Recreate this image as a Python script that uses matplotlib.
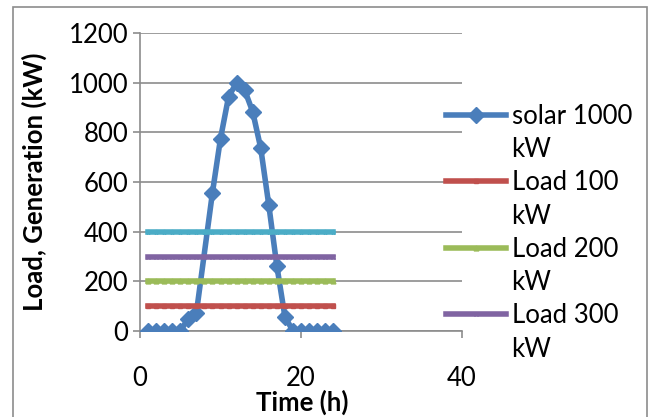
import matplotlib
matplotlib.use("Agg")
import matplotlib.pyplot as plt
from matplotlib.lines import Line2D

plt.rcParams['font.family'] = ['Lato', 'DejaVu Sans']

# Data
solar_hours = [1, 2, 3, 4, 5, 6, 7, 9, 10, 11, 12, 13, 14, 15, 16, 17, 18, 19, 20, 21, 22, 23, 24]
solar_kw = [0, 0, 0, 0, 0, 50, 72, 557, 775, 943, 1000, 970, 883, 736, 507, 262, 58, 0, 0, 0, 0, 0, 0]
load_hours = list(range(1, 25))
load_levels = [100, 200, 300, 400]
load_names = ["Load 100\nkW", "Load 200\nkW", "Load 300\nkW", "Load 400\nkW"]
load_colors = ["#C0504D", "#9BBB59", "#8064A2", "#4BACC6"]
load_markers = ["s", "^", "x", "*"]
x_ticks = [0, 20, 40]
y_ticks = [0, 200, 400, 600, 800, 1000, 1200]

FS = 18.5
W, H = 653, 417
fig = plt.figure(figsize=(W / 100, H / 100), dpi=100)
ax = fig.add_axes([140 / W, (H - 331) / H, (462 - 140) / W, (331 - 33) / H])

grid_c = "#8C8C8C"
for y in y_ticks:
    ax.axhline(y, color=grid_c, lw=1.2, zorder=0)

solar_color = "#4A7EBB"
ax.plot(solar_hours, solar_kw, color=solar_color, lw=4, marker="D", ms=8.5,
        mec=solar_color, mfc=solar_color, zorder=3, solid_joinstyle="round")

for lvl, c, m in zip(load_levels, load_colors, load_markers):
    ax.plot(load_hours, [lvl] * len(load_hours), color=c, lw=4, marker=m,
            ms=3.5, mec=c, mfc=c, zorder=4)

ax.set_xlim(0, 40)
ax.set_ylim(0, 1200)
ax.set_xticks(x_ticks)
ax.set_yticks(y_ticks)
for s in ["top", "right"]:
    ax.spines[s].set_visible(False)
ax.spines["left"].set_color(grid_c)
ax.spines["bottom"].set_color(grid_c)
ax.spines["left"].set_linewidth(1.2)
ax.spines["bottom"].set_linewidth(1.2)
ax.tick_params(axis="both", colors=grid_c, length=5, width=1.2, labelsize=FS,
               labelcolor="black")
ax.tick_params(axis="y", pad=3.5)
ax.tick_params(axis="x", pad=20)
ax.set_ylabel("Load, Generation (kW)", fontsize=FS, fontweight="bold")
ax.yaxis.set_label_coords(-(140 - 34) / 322, 0.5)
ax.yaxis.label.set_va("center")
ax.set_xlabel("Time (h)", fontsize=FS, fontweight="bold")
ax.xaxis.set_label_coords((302 - 140) / 322, -(402 - 331) / 298)
ax.xaxis.label.set_va("center")

# Legend (Excel-like wrapped labels)
blank = Line2D([], [], color="none")
handles = [Line2D([], [], color=solar_color, lw=4, marker="D", ms=8.5), blank]
labels = ["solar 1000", "kW"]
for name, c, m in zip(load_names[:3], load_colors[:3], load_markers[:3]):
    first, second = name.split("\n")
    handles += [Line2D([], [], color=c, lw=4, marker=m, ms=3.5), blank]
    labels += [first, second]
leg = fig.legend(handles, labels, loc="upper left", bbox_to_anchor=(446 / W, 1 - 104 / H),
                 frameon=False, fontsize=FS, handlelength=2.35, handletextpad=0.2,
                 labelspacing=0.32, borderpad=0, borderaxespad=0)

# figure border
fig.patches.append(plt.Rectangle((13 / W, -0.01), (647 - 13) / W, 1 - 7 / H + 0.01,
                                 transform=fig.transFigure, fill=False,
                                 edgecolor="#8C8C8C", lw=1.2))

fig.savefig("out.png", dpi=100)
